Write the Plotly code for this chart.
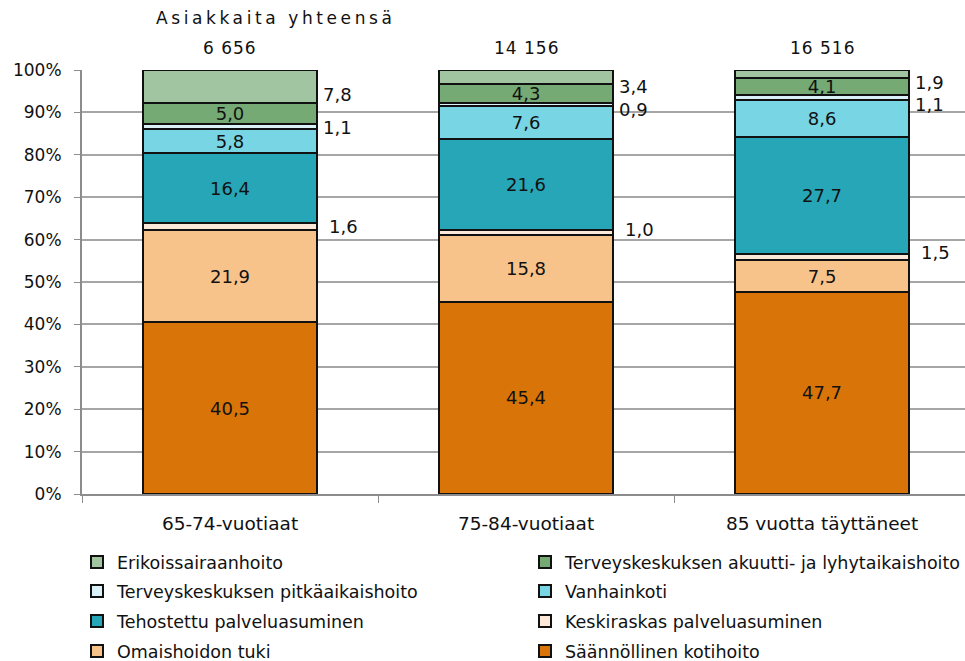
import plotly.graph_objects as go

categories = ["65-74-vuotiaat", "75-84-vuotiaat", "85 vuotta täyttäneet"]
totals = ["6 656", "14 156", "16 516"]
y_tick_vals = [0, 10, 20, 30, 40, 50, 60, 70, 80, 90, 100]
y_tick_text = ["0%", "10%", "20%", "30%", "40%", "50%", "60%", "70%", "80%", "90%", "100%"]

# bottom -> top
series_names = [
    "Säännöllinen kotihoito",
    "Omaishoidon tuki",
    "Keskiraskas palveluasuminen",
    "Tehostettu palveluasuminen",
    "Vanhainkoti",
    "Terveyskeskuksen pitkäaikaishoito",
    "Terveyskeskuksen akuutti- ja lyhytaikaishoito",
    "Erikoissairaanhoito",
]
saannollinen = [40.5, 45.4, 47.7]
omaishoidon = [21.9, 15.8, 7.5]
keskiraskas = [1.6, 1.0, 1.5]
tehostettu = [16.4, 21.6, 27.7]
vanhainkoti = [5.8, 7.6, 8.6]
pitkaaikais = [1.1, 0.9, 1.1]
akuutti = [5.0, 4.3, 4.1]
erikois = [7.8, 3.4, 1.9]
series_values = [saannollinen, omaishoidon, keskiraskas, tehostettu,
                 vanhainkoti, pitkaaikais, akuutti, erikois]

colors = ["#D97508", "#F8C38A", "#FDE9D9", "#27A6B8",
          "#78D5E3", "#DAF1F7", "#75AA74", "#A0C5A0"]

# labels that sit outside the bar (right side), with pixel nudges (xshift, yshift)
outside = {
    (2, 0): (10, 0), (2, 1): (10, 3), (2, 2): (10, 5),
    (5, 0): (4, 0), (5, 1): (4, -4), (5, 2): (4, -6),
    (7, 0): (4, -7), (7, 1): (4, -9), (7, 2): (4, -8),
}

# legend slot for each series: (column, row)
legend_slots = {7: (0, 0), 6: (1, 0), 5: (0, 1), 4: (1, 1),
                3: (0, 2), 2: (1, 2), 1: (0, 3), 0: (1, 3)}
legend_col_px = [77, 525]
legend_row_px = [562, 591, 621, 651]

W, H = 965, 661
FONT = "DejaVu Sans, Verdana, sans-serif"
bar_w = 0.59

fig = go.Figure()
layout_legends = {}
for i, (name, vals, col) in enumerate(zip(series_names, series_values, colors)):
    txt = []
    for j, v in enumerate(vals):
        txt.append("" if (i, j) in outside else f"{v:.1f}".replace(".", ","))
    lkey = "legend" if i == 0 else f"legend{i + 1}"
    fig.add_trace(go.Bar(
        x=categories, y=vals, name=name, width=bar_w,
        marker=dict(color=col, line=dict(color="#111111", width=2)),
        text=txt, textposition="inside", insidetextanchor="middle",
        textfont=dict(family=FONT, size=18, color="#111111"),
        legend=lkey, cliponaxis=False,
    ))
    c, r = legend_slots[i]
    layout_legends[lkey] = dict(
        orientation="h", xref="container", yref="container",
        x=legend_col_px[c] / W, y=1 - legend_row_px[r] / H,
        xanchor="left", yanchor="middle", itemwidth=30,
        font=dict(family=FONT, size=17.5, color="#111111"),
        bgcolor="rgba(0,0,0,0)",
    )

# outside labels
totals_per_cat = [sum(s[j] for s in series_values) for j in range(3)]
annotations = []
for (i, j), (dx, dy) in outside.items():
    below = sum(series_values[k][j] for k in range(i))
    center = (below + series_values[i][j] / 2) / totals_per_cat[j] * 100
    annotations.append(dict(
        x=j + bar_w / 2, y=center, xref="x", yref="y",
        text=f"{series_values[i][j]:.1f}".replace(".", ","),
        showarrow=False, xanchor="left", yanchor="middle",
        xshift=dx, yshift=dy, height=18, valign="middle",
        font=dict(family=FONT, size=18, color="#111111"),
    ))

# totals above bars
for j, t in enumerate(totals):
    annotations.append(dict(
        x=j, y=1.052, xref="x", yref="paper",
        text=f'<span style="letter-spacing:1px">{t}</span>', showarrow=False,
        xanchor="center", yanchor="middle",
        font=dict(family=FONT, size=17, color="#111111"),
    ))
annotations.append(dict(
    x=0.2197, y=1.123, xref="paper", yref="paper",
    text='<span style="letter-spacing:3.6px">Asiakkaita yhteensä</span>',
    showarrow=False, xanchor="center", yanchor="middle",
    font=dict(family=FONT, size=17, color="#111111"),
))

fig.update_layout(
    width=W, height=H,
    margin=dict(l=82, r=0, t=70, b=167),
    paper_bgcolor="white", plot_bgcolor="white",
    barmode="stack", barnorm="percent",
    showlegend=True,
    uniformtext=dict(minsize=18, mode="show"),
    annotations=annotations,
    xaxis=dict(
        range=[-0.5, 2.483], showgrid=False,
        showline=True, linecolor="#8C8C8C", linewidth=2,
        ticks="outside", tickson="boundaries", ticklen=7, tickcolor="#8C8C8C",
        tickfont=dict(family=FONT, size=18.5, color="#111111"),
        ticklabelstandoff=12,
    ),
    yaxis=dict(
        range=[0, 100], tickmode="array", tickvals=y_tick_vals, ticktext=y_tick_text,
        showgrid=True, gridcolor="#A6A6A6", gridwidth=2,
        showline=True, linecolor="#8C8C8C", linewidth=2,
        ticks="outside", ticklen=6, tickcolor="#8C8C8C",
        tickfont=dict(family=FONT, size=17, color="#111111"),
        ticklabelstandoff=9, zeroline=False,
    ),
    **layout_legends,
)

fig.write_html(
    "out.html",
    config={"displayModeBar": False},
    post_script="document.body.style.margin='0px';document.body.style.overflow='hidden';",
)
